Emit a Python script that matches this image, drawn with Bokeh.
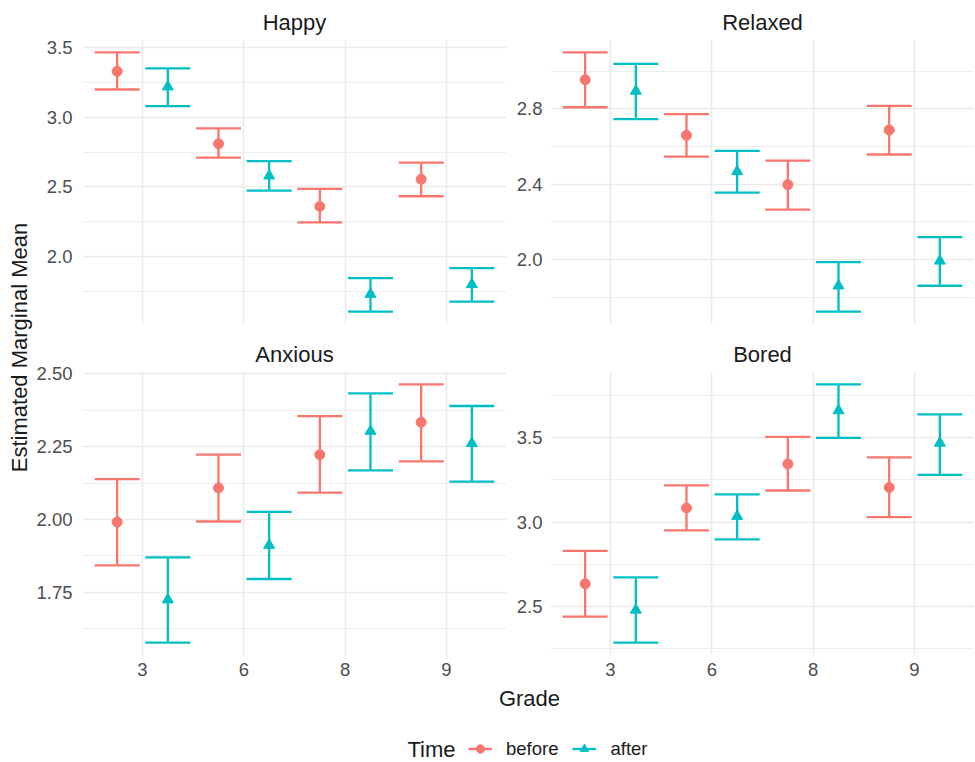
import math
from bokeh.plotting import figure
from bokeh.models import (ColumnDataSource, FactorRange, Range1d, FixedTicker, Whisker, TeeHead,
                          Label, Legend, LegendItem, NumeralTickFormatter)
from bokeh.transform import dodge
from bokeh.layouts import row, column
from bokeh.embed import file_html
from bokeh.resources import INLINE

# ---------------- data ----------------
grades = ["3", "6", "8", "9"]
times = ["before", "after"]

happy_before_mean = [3.33, 2.81, 2.36, 2.555]
happy_before_lower = [3.20, 2.71, 2.245, 2.433]
happy_before_upper = [3.466, 2.921, 2.486, 2.674]
happy_after_mean = [3.22, 2.58, 1.73, 1.80]
happy_after_lower = [3.081, 2.474, 1.605, 1.676]
happy_after_upper = [3.352, 2.686, 1.845, 1.917]

relaxed_before_mean = [2.955, 2.66, 2.398, 2.688]
relaxed_before_lower = [2.809, 2.547, 2.265, 2.558]
relaxed_before_upper = [3.10, 2.772, 2.525, 2.816]
relaxed_after_mean = [2.895, 2.468, 1.861, 1.993]
relaxed_after_lower = [2.746, 2.356, 1.724, 1.861]
relaxed_after_upper = [3.039, 2.577, 1.986, 2.119]

anxious_before_mean = [1.991, 2.108, 2.222, 2.333]
anxious_before_lower = [1.843, 1.993, 2.092, 2.199]
anxious_before_upper = [2.138, 2.222, 2.354, 2.463]
anxious_after_mean = [1.725, 1.912, 2.303, 2.261]
anxious_after_lower = [1.578, 1.796, 2.168, 2.130]
anxious_after_upper = [1.870, 2.026, 2.432, 2.389]

bored_before_mean = [2.635, 3.084, 3.344, 3.205]
bored_before_lower = [2.441, 2.951, 3.187, 3.030]
bored_before_upper = [2.830, 3.218, 3.505, 3.383]
bored_after_mean = [2.48, 3.035, 3.66, 3.468]
bored_after_lower = [2.287, 2.898, 3.498, 3.280]
bored_after_upper = [2.673, 3.164, 3.815, 3.638]

happy_ticks = [2.0, 2.5, 3.0, 3.5]
happy_minor = [1.75, 2.25, 2.75, 3.25]
relaxed_ticks = [2.0, 2.4, 2.8]
relaxed_minor = [1.8, 2.2, 2.6, 3.0]
anxious_ticks = [1.75, 2.00, 2.25, 2.50]
anxious_minor = [1.625, 1.875, 2.125, 2.375]
bored_ticks = [2.5, 3.0, 3.5]
bored_minor = [2.25, 2.75, 3.25, 3.75]

# ---------------- style ----------------
FONT = "Liberation Sans"
C_BEFORE = "#F8766D"
C_AFTER = "#00BFC4"
GRID = "#ebebeb"
DARK = "#1a1a1a"
TICK = "#4d4d4d"
NAN = float("nan")


def panel(title, bm, bl, bu, am, al, au, ticks, minor, fmt, left, top):
    lo = min(bl + al)
    hi = max(bu + au)
    pad = 0.05 * (hi - lo)
    mbl = 49 if left else 40
    mbr = 4 if left else 0
    mbt = 39 if top else 36
    mbb = 10 if top else 29
    p = figure(x_range=FactorRange(factors=grades, range_padding=0.092, range_padding_units="absolute"),
               y_range=Range1d(lo - pad, hi + pad),
               width=mbl + 424 + mbr, height=mbt + 285 + mbb,
               min_border_left=mbl, min_border_right=mbr,
               min_border_top=mbt, min_border_bottom=mbb,
               output_backend="svg", toolbar_location=None, title=title)
    p.outline_line_color = None
    p.title.align = "center"
    p.title.text_font = FONT
    p.title.text_font_size = "22px"
    p.title.text_font_style = "normal"
    p.title.text_color = DARK
    p.title.standoff = 10

    yt = FixedTicker(ticks=ticks, minor_ticks=minor)
    p.yaxis.ticker = yt
    p.ygrid.ticker = yt
    p.yaxis.formatter = NumeralTickFormatter(format=fmt)
    for ax in (p.xaxis, p.yaxis):
        ax.axis_line_color = None
        ax.major_tick_line_color = None
        ax.minor_tick_line_color = None
        ax.major_tick_out = 0
        ax.major_tick_in = 0
        ax.minor_tick_out = 0
        ax.minor_tick_in = 0
        ax.major_label_text_font = FONT
        ax.major_label_text_font_size = "18.5px"
        ax.major_label_text_color = TICK
    p.yaxis.major_label_standoff = 10 if left else 8
    p.yaxis.major_label_text_align = "right"
    p.xaxis.major_label_standoff = 7
    if top:
        p.xaxis.visible = False

    p.xgrid.grid_line_color = GRID
    p.xgrid.grid_line_width = 1.6
    p.ygrid.grid_line_color = GRID
    p.ygrid.grid_line_width = 1.6
    p.ygrid.minor_grid_line_color = GRID
    p.ygrid.minor_grid_line_width = 0.9

    for mean, lower, upper, off, col, marker, size in (
            (bm, bl, bu, -0.25, C_BEFORE, "circle", 10),
            (am, al, au, 0.25, C_AFTER, "triangle", 11)):
        src = ColumnDataSource(dict(grade=grades, mean=mean, lower=lower, upper=upper))
        w = Whisker(source=src, base=dodge("grade", off, range=p.x_range), upper="upper", lower="lower",
                    dimension="height", line_color=col, line_width=2.3,
                    upper_head=TeeHead(size=45, line_color=col, line_width=2.3),
                    lower_head=TeeHead(size=45, line_color=col, line_width=2.3))
        p.add_layout(w)
        p.scatter(x=dodge("grade", off, range=p.x_range), y="mean", source=src, marker=marker,
                  size=size, fill_color=col, line_color=col)
    return p


p1 = panel("Happy", happy_before_mean, happy_before_lower, happy_before_upper,
           happy_after_mean, happy_after_lower, happy_after_upper,
           happy_ticks, happy_minor, "0.0", True, True)
p2 = panel("Relaxed", relaxed_before_mean, relaxed_before_lower, relaxed_before_upper,
           relaxed_after_mean, relaxed_after_lower, relaxed_after_upper,
           relaxed_ticks, relaxed_minor, "0.0", False, True)
p3 = panel("Anxious", anxious_before_mean, anxious_before_lower, anxious_before_upper,
           anxious_after_mean, anxious_after_lower, anxious_after_upper,
           anxious_ticks, anxious_minor, "0.00", True, False)
p4 = panel("Bored", bored_before_mean, bored_before_lower, bored_before_upper,
           bored_after_mean, bored_after_lower, bored_after_upper,
           bored_ticks, bored_minor, "0.0", False, False)

# y axis title
py = figure(width=33, height=684, min_border=0, output_backend="svg", toolbar_location=None,
            x_range=Range1d(0, 1), y_range=Range1d(0, 1))
py.axis.visible = False
py.grid.visible = False
py.outline_line_color = None
py.add_layout(Label(x=18.5, y=337, x_units="screen", y_units="screen", angle=math.pi / 2,
                    text="Estimated Marginal Mean", text_font=FONT, text_font_size="22px",
                    text_color=DARK, text_align="center", text_baseline="middle"))

# bottom: x title + legend
pb = figure(width=974, height=78, min_border=0, output_backend="svg", toolbar_location=None,
            x_range=Range1d(0, 1), y_range=Range1d(0, 1))
pb.axis.visible = False
pb.grid.visible = False
pb.outline_line_color = None
pb.add_layout(Label(x=529, y=64, x_units="screen", y_units="screen", text="Grade",
                    text_font=FONT, text_font_size="22px", text_color=DARK,
                    text_align="center", text_baseline="middle"))
pb.add_layout(Label(x=407, y=13, x_units="screen", y_units="screen", text="Time",
                    text_font=FONT, text_font_size="22px", text_color=DARK,
                    text_align="left", text_baseline="middle"))
items = []
for t, col, marker, size in ((times[0], C_BEFORE, "circle", 10), (times[1], C_AFTER, "triangle", 11)):
    ln = pb.line(x=[NAN, NAN], y=[NAN, NAN], line_color=col, line_width=2.3)
    sc = pb.scatter(x=[NAN], y=[NAN], marker=marker, size=size, fill_color=col, line_color=col)
    items.append(LegendItem(label=t, renderers=[ln, sc]))
leg = Legend(items=items, orientation="horizontal", location=(468, 2.5),
             glyph_width=24, glyph_height=21, label_height=21, label_standoff=14, spacing=14,
             padding=0, margin=0, border_line_color=None, background_fill_alpha=0,
             label_text_font=FONT, label_text_font_size="18.5px", label_text_color=DARK,
             label_text_baseline="middle")
pb.add_layout(leg)

grid = column(row(p1, p2), row(p3, p4))
layout = column(row(py, grid), pb)

open("out.html", "w").write(file_html(layout, INLINE))
